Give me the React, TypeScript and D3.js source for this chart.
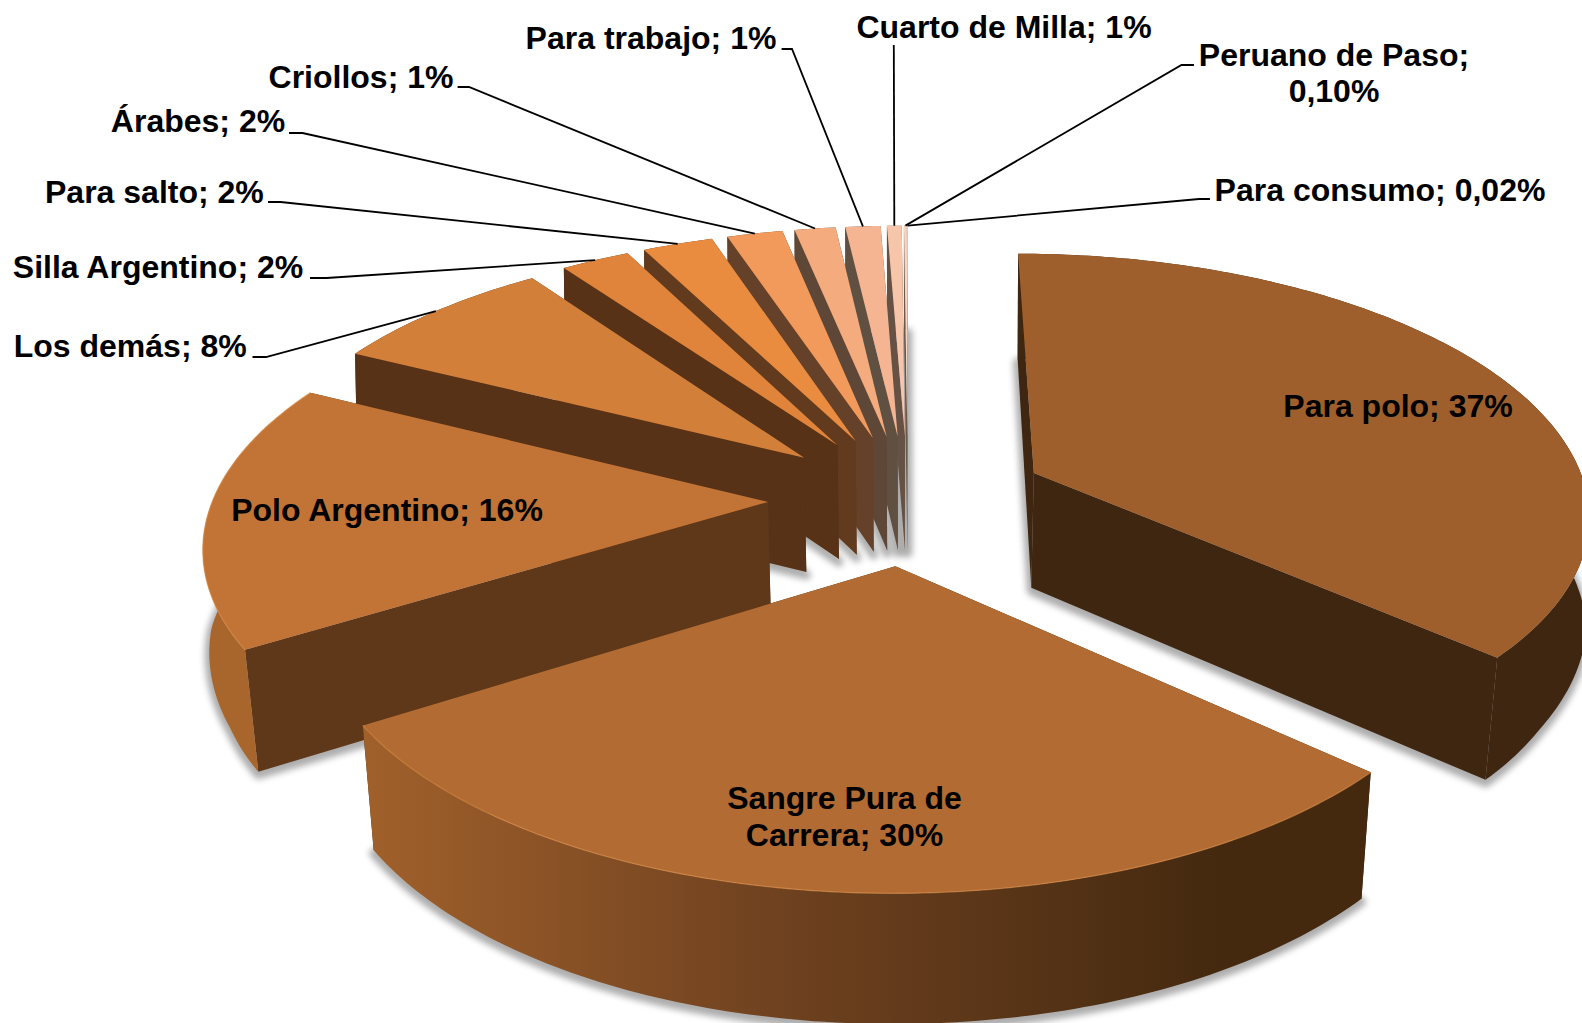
import React from "react";
import * as d3 from "d3";

// Data
const categories = ["Para polo", "Sangre Pura de Carrera", "Polo Argentino", "Los demás", "Silla Argentino", "Para salto", "Árabes", "Criollos", "Para trabajo", "Cuarto de Milla", "Peruano de Paso", "Para consumo"];
const shares = [36.6, 29.5, 16.25, 7.7, 2.35, 2.4, 1.9, 1.4, 1.2, 0.5, 0.1, 0.02];
const shareLabels = ["37%", "30%", "16%", "8%", "2%", "2%", "2%", "1%", "1%", "1%", "0,10%", "0,02%"];

// Styles
const topColors = ["#9e5f2c", "#b26b32", "#c27436", "#d27f3a", "#e0843b", "#e98c40", "#f29a5b", "#f4ab7d", "#f5b592", "#f7c6aa", "#f9d6c3", "#fbe5d9"];
const sideColors = ["#3f2610", "url(#sangreSide)", "#5f3719", "#573216", "#573216", "#623a1e", "#65412a", "#5f4738", "#605042", "#655244", "#6a5a4d", "#75675c"];
const arcColors = ["#3f2610", "url(#sangreSide)", "#a8662d", "#573216", "#573216", "#623a1e", "#65412a", "#5f4738", "#605042", "#655244", "#6a5a4d", "#75675c"];

// Label layout: text centre, text lines, and the elbow of the leader line
const labelLines = [
  ["Para polo; 37%"], ["Sangre Pura de", "Carrera; 30%"], ["Polo Argentino; 16%"], ["Los demás; 8%"], ["Silla Argentino; 2%"], ["Para salto; 2%"],
  ["Árabes; 2%"], ["Criollos; 1%"], ["Para trabajo; 1%"], ["Cuarto de Milla; 1%"], ["Peruano de Paso;", "0,10%"], ["Para consumo; 0,02%"],
];
const labelCentres: [number, number][] = [[1398, 406], [844.5, 798], [387, 510], [130.2, 346], [158, 267], [154.4, 192], [198, 121], [361, 77], [651, 38], [1004, 27], [1334, 54.5], [1380, 190]];
const leaderStubs: ([number, number, number, number] | null)[] = [null, null, null, [252.5, 357, 266, 357], [310, 278, 326.5, 278], [268, 202, 280.6, 202], [289, 133, 302.5, 133], [457.6, 87, 469, 87], [781.6, 49, 792, 49], [893.8, 45, 893.8, 45], [1194, 65, 1181.5, 65], [1210, 199, 1199, 199]];

const W = 1582, H = 1023;
const cam = { cx: 908, cy: 499, A: 555, B: 258, p: 0.145, eps: 0.252, D: 116, q: 0.09, conv: 0.02 };

type Arc = d3.PieArcDatum<number>;
const arcs: Arc[] = d3.pie<number>().sort(null).value((d) => d)(shares);
// Walls lean inward only toward the near side of the pie.
const leanByDepth = d3.scaleLinear().domain([0.05, 0.4]).range([0.2, 1]).clamp(true);

function project(a: Arc, theta: number, r: number, bottom = false): [number, number] {
  const mid = (a.startAngle + a.endAngle) / 2;
  const X = r * Math.sin(theta) + cam.eps * Math.sin(mid);
  const Y = -r * Math.cos(theta) - cam.eps * Math.cos(mid);
  const w = 1 - cam.p * Y;
  let sx = cam.cx + (cam.A * X) / w;
  let sy = cam.cy + (cam.B * Y) / w;
  if (bottom) {
    const lean = r > 0 ? cam.conv * leanByDepth(Y) : cam.conv;
    sx = cam.cx + (sx - cam.cx) * (1 - lean);
    sy += cam.D / (1 - cam.q * Y);
  }
  return [sx, sy];
}

const line = d3.line<[number, number]>();
const closed = (pts: [number, number][]) => line(pts) + "Z";
const arcPts = (a: Arc, bottom = false) => {
  const n = Math.max(2, Math.ceil((a.endAngle - a.startAngle) * 60));
  return d3.range(n + 1).map((i) => project(a, a.startAngle + ((a.endAngle - a.startAngle) * i) / n, 1, bottom));
};

const drawOrder = d3.range(arcs.length).sort((i, j) => {
  const yi = -Math.cos((arcs[i].startAngle + arcs[i].endAngle) / 2);
  const yj = -Math.cos((arcs[j].startAngle + arcs[j].endAngle) / 2);
  return yi - yj;
});

export default function App() {
  return (
    <svg width={W} height={H} viewBox={`0 0 ${W} ${H}`} style={{ position: "absolute", left: 0, top: 0, display: "block", background: "#fff" }}>
      <defs>
        <linearGradient id="sangreSide" gradientUnits="userSpaceOnUse" x1="367" x2="1373" y1="0" y2="0">
          <stop offset="0" stopColor="#a0602b" />
          <stop offset="0.4" stopColor="#704220" />
          <stop offset="0.85" stopColor="#44290f" />
          <stop offset="1" stopColor="#44290f" />
        </linearGradient>
        <filter id="soft" x="-10%" y="-10%" width="120%" height="120%">
          <feGaussianBlur stdDeviation="3" />
        </filter>
      </defs>

      <g filter="url(#soft)" opacity="0.6" transform="translate(0,3)">
        {arcs.map((a, i) => (
          <path key={i} d={closed([project(a, a.startAngle, 0, true), ...arcPts(a, true)])} fill="#777" stroke="#777" strokeWidth={9} strokeLinejoin="round" />
        ))}
      </g>

      {drawOrder.map((i) => {
        const a = arcs[i];
        const apexT = project(a, a.startAngle, 0);
        const apexB = project(a, a.startAngle, 0, true);
        const top = arcPts(a);
        const bot = arcPts(a, true);
        const side = sideColors[i];
        return (
          <g key={categories[i]}>
            <path d={closed([apexT, top[top.length - 1], bot[bot.length - 1], apexB])} fill={side === "url(#sangreSide)" ? "#44290f" : side} />
            <path d={closed([apexT, top[0], bot[0], apexB])} fill={side === "url(#sangreSide)" ? "#44290f" : side} />
            <path d={closed([...top, ...bot.slice().reverse()])} fill={arcColors[i]} />
            <path d={closed([apexT, ...top])} fill={topColors[i]} />
            {i === 1 || i === 2 ? <path d={line(top) || ""} fill="none" stroke="#dc8d48" strokeWidth={1.3} opacity={0.6} /> : null}
          </g>
        );
      })}

      <g stroke="#000" strokeWidth={1.8} fill="none">
        {leaderStubs.map((s, i) => {
          if (!s) return null;
          const a = arcs[i];
          const end = project(a, (a.startAngle + a.endAngle) / 2, 1);
          return <path key={i} d={line([[s[0], s[1]], [s[2], s[3]], end]) || ""} />;
        })}
      </g>

      <g fontFamily="'Liberation Sans', Arial, sans-serif" fontWeight="bold" fontSize={32} fill="#000" textAnchor="middle">
        {labelLines.map((ls, i) =>
          ls.map((t, k) => (
            <text key={i + "-" + k} x={labelCentres[i][0]} y={labelCentres[i][1] + k * 36.5} dy="0.35em">{t}</text>
          ))
        )}
      </g>
    </svg>
  );
}
